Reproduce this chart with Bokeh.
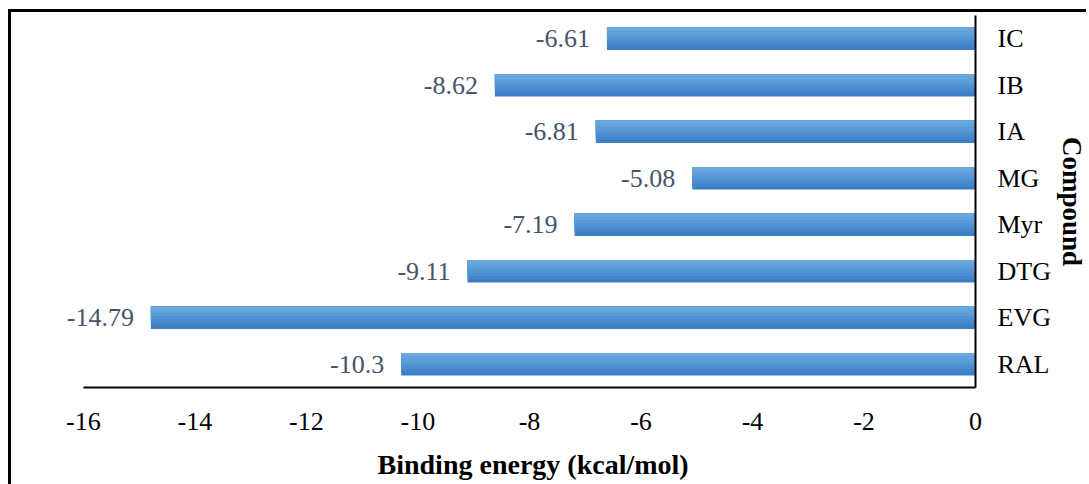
from bokeh.plotting import figure
from bokeh.models import FactorRange, FixedTicker, ColumnDataSource, LabelSet, Title
from bokeh.transform import dodge
from bokeh.embed import file_html
from bokeh.resources import INLINE

compounds = ["IC", "IB", "IA", "MG", "Myr", "DTG", "EVG", "RAL"]
energies = [-6.61, -8.62, -6.81, -5.08, -7.19, -9.11, -14.79, -10.3]
value_labels = ["-6.61", "-8.62", "-6.81", "-5.08", "-7.19", "-9.11", "-14.79", "-10.3"]
x_ticks = [-16, -14, -12, -10, -8, -6, -4, -2, 0]
x_tick_labels = ["-16", "-14", "-12", "-10", "-8", "-6", "-4", "-2", "0"]

FONT = "Liberation Serif"

src = ColumnDataSource(dict(cat=compounds, val=energies, lab=value_labels))

p = figure(
    width=1078, height=489,
    y_range=FactorRange(factors=compounds[::-1]),
    x_range=(-17.29, 0),
    y_axis_location="right",
    output_backend="svg",
    toolbar_location=None,
    min_border_left=0, min_border_right=114,
    min_border_top=3, min_border_bottom=114,
    margin=(9, 0, 0, 8),
)
p.styles = {"border-left": "3px solid black", "border-top": "3px solid black"}

# gradient-like bars: nested bars anchored at the top, lighter towards the top
bar_h = 0.48
shades = ["#3c7fc6", "#4386cb", "#4a8dd0", "#5294d4", "#5a9bd8", "#62a1db", "#6ca8de"]
n = len(shades)
for i, col in enumerate(shades):
    f = (n - i) / n
    h = bar_h * f
    off = bar_h / 2 - h / 2
    p.hbar(y=dodge("cat", off, range=p.y_range), right=0, left="val", height=h,
           source=src, fill_color=col, line_color=None)

labels = LabelSet(x="val", y="cat", text="lab", source=src, x_offset=-17,
                  text_align="right", text_baseline="middle",
                  text_font=FONT, text_font_size="26px", text_color="#44546a")
p.add_layout(labels)

p.xgrid.grid_line_color = None
p.ygrid.grid_line_color = None
p.outline_line_color = None
p.background_fill_color = "white"
p.border_fill_color = "white"

xa = p.xaxis[0]
xa.ticker = FixedTicker(ticks=x_ticks)
xa.major_label_overrides = {t: s for t, s in zip(x_ticks, x_tick_labels)}
xa.bounds = (x_ticks[0], x_ticks[-1])
xa.major_label_text_font = FONT
xa.major_label_text_font_size = "26px"
xa.major_label_text_color = "black"
xa.major_label_standoff = 19
xa.axis_line_color = "black"
xa.axis_line_width = 2
xa.major_tick_line_color = None
xa.minor_tick_line_color = None

xtitle = Title(text="Binding energy (kcal/mol)", align="left", offset=366,
               text_font=FONT, text_font_style="bold", text_font_size="28px",
               text_color="black", standoff=28)
p.add_layout(xtitle, "below")

ya = p.yaxis[0]
ya.axis_label = "Compound"
ya.axis_label_text_font = FONT
ya.axis_label_text_font_style = "bold"
ya.axis_label_text_font_size = "27px"
ya.axis_label_text_color = "black"
ya.axis_label_standoff = 3
ya.major_label_text_font = FONT
ya.major_label_text_font_size = "26px"
ya.major_label_text_color = "black"
ya.major_label_standoff = 16
ya.axis_line_color = "black"
ya.axis_line_width = 2
ya.major_tick_line_color = None
ya.minor_tick_line_color = None

open("out.html", "w").write(file_html(p, INLINE))
